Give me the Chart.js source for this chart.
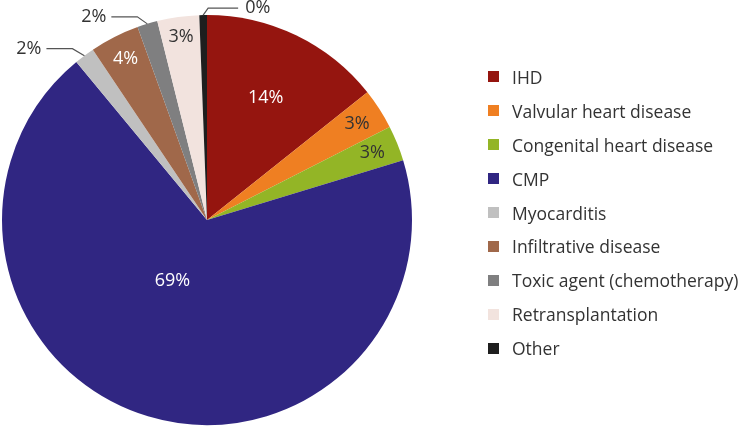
<!DOCTYPE html>
<html>
<head>
<meta charset="utf-8">
<script src="https://cdn.jsdelivr.net/npm/chart.js@4/dist/chart.umd.min.js"></script>
<style>
    body { margin: 0; background: #fff; }
    #wrap { position: relative; width: 742px; height: 428px; }
    #legend { position: absolute; left: 488px; top: 60px; font-family: "Open Sans", sans-serif; font-size: 17.5px; color: #333; }
    .legend-row { display: flex; align-items: center; height: 33.9px; }
    .legend-color { width: 11px; height: 11px; margin-right: 13px; }
</style>
</head>
<body>
<div id="wrap">
    <canvas id="pie" width="742" height="428"></canvas>
    <div id="legend"></div>
</div>
<script>
const categories = ["IHD", "Valvular heart disease", "Congenital heart disease", "CMP", "Myocarditis",
    "Infiltrative disease", "Toxic agent (chemotherapy)", "Retransplantation", "Other"];
const shares = [14.3, 3.2, 2.8, 68.7, 1.6, 3.9, 1.6, 3.3, 0.6];
const shareLabels = ["14%", "3%", "3%", "69%", "2%", "4%", "2%", "3%", "0%"];

const colors = ["#95150f", "#ef7f22", "#93b526", "#302682", "#c0c0c0", "#a0684a", "#7f7f80", "#f2e3de", "#1e1e1e"];

/* label placement: inside = radius fraction, outside = leader line */
const labelStyle = [
    { r: 0.66, c: "#fff" },
    { r: 0.87, c: "#333" },
    { r: 0.87, c: "#333" },
    { r: 0.34, c: "#fff", da: 13 },
    { out: true, ex: -12, ey: -7, len: -26 },
    { r: 0.88, c: "#fff" },
    { out: true, ex: -10, ey: -7, len: -26 },
    { r: 0.9, c: "#333" },
    { out: true, ex: 5, ey: -7, len: 30 }
];

/* LEGEND */
categories.forEach((cat, i) => {
    legend.innerHTML += `
    <div class="legend-row">
        <div class="legend-color" style="background:${colors[i]}"></div>${cat}
    </div>`;
});

const sliceLabels = {
    id: "sliceLabels",
    afterDatasetsDraw(chart) {
        const ctx = chart.ctx;
        const arcs = chart.getDatasetMeta(0).data;
        ctx.save();
        ctx.font = "18px 'Open Sans', sans-serif";
        ctx.textBaseline = "middle";
        arcs.forEach((arc, i) => {
            const s = labelStyle[i];
            const mid = (arc.startAngle + arc.endAngle) / 2 + (s.da || 0) * Math.PI / 180;
            if (!s.out) {
                ctx.fillStyle = s.c;
                ctx.textAlign = "center";
                ctx.fillText(shareLabels[i],
                    arc.x + Math.cos(mid) * arc.outerRadius * s.r,
                    arc.y + Math.sin(mid) * arc.outerRadius * s.r);
                return;
            }
            const x0 = arc.x + Math.cos(mid) * arc.outerRadius;
            const y0 = arc.y + Math.sin(mid) * arc.outerRadius;
            const x1 = x0 + s.ex, y1 = y0 + s.ey;
            const x2 = x1 + s.len;
            ctx.strokeStyle = "#555";
            ctx.lineWidth = 1.2;
            ctx.beginPath();
            ctx.moveTo(x0, y0);
            ctx.lineTo(x1, y1);
            ctx.lineTo(x2, y1);
            ctx.stroke();
            ctx.fillStyle = "#333";
            ctx.textAlign = s.len < 0 ? "right" : "left";
            ctx.fillText(shareLabels[i], x2 + (s.len < 0 ? -5 : 7), y1);
        });
        ctx.restore();
    }
};

new Chart(document.getElementById("pie"), {
    type: "pie",
    data: {
        labels: categories,
        datasets: [{
            data: shares,
            backgroundColor: colors,
            borderWidth: 0
        }]
    },
    options: {
        responsive: false,
        animation: false,
        layout: { padding: { left: 2, top: 15, bottom: 3, right: 330 } },
        plugins: { legend: { display: false }, tooltip: { enabled: false } }
    },
    plugins: [sliceLabels]
});
</script>
</body>
</html>
